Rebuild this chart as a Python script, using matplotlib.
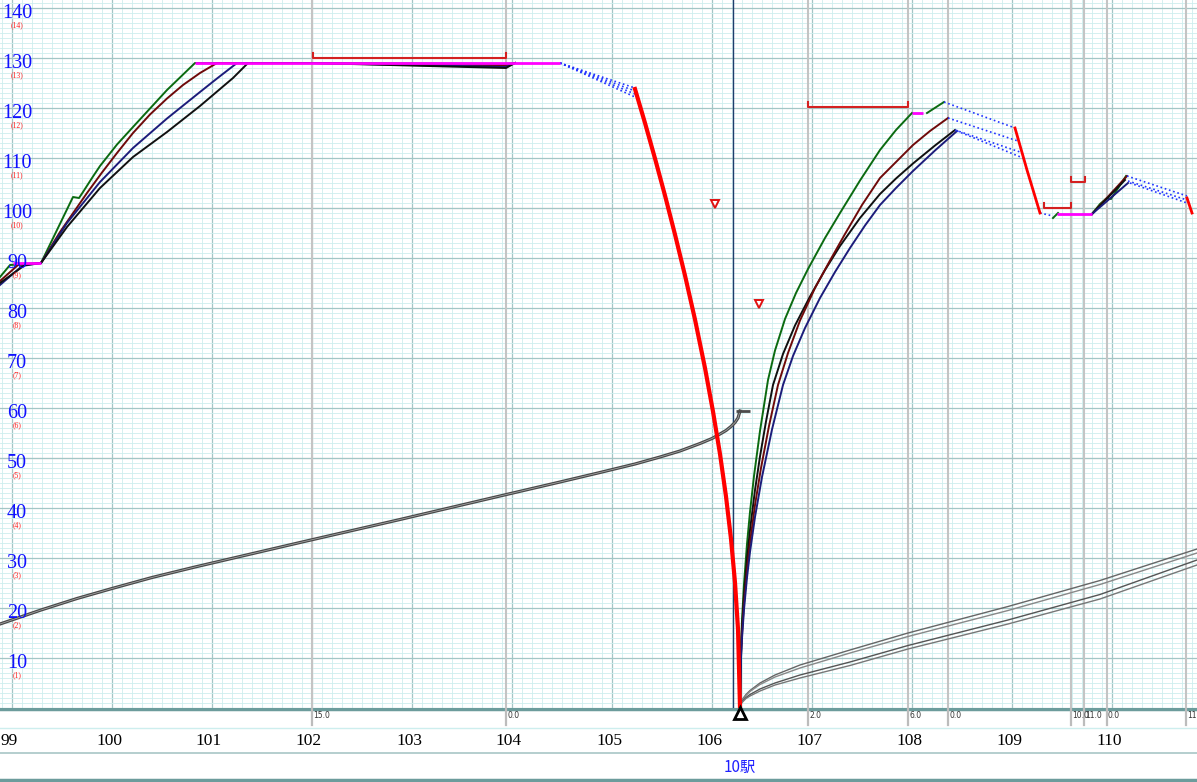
"""
Run curve chart: speed profiles of four trains around 10駅, with time curves.
"""
import matplotlib
matplotlib.use("Agg")
import matplotlib.pyplot as plt
from matplotlib.ticker import MultipleLocator

plt.rcParams["font.family"] = ["Liberation Serif", "DejaVu Serif"]

# ---- data (km, km/h) ---------------------------------------------------------
KM_LABELS = list(range(99, 111))
Y_LABELS = list(range(10, 150, 10))

# approach + first acceleration, cruise at 129
green_a_km = [98.88, 98.98, 99.29, 99.45, 99.61, 99.67, 99.71, 99.80, 99.88, 100.05, 100.21, 100.38, 100.55,
              100.69, 100.83, 102.0, 103.94, 104.03]
green_a_v = [86.2, 88.6, 89.0, 95.6, 102.2, 102.0, 103.2, 106.0, 108.4, 112.7, 116.2, 119.9, 123.6,
             126.3, 129.0, 129.0, 128.8, 129.0]
maroon_a_km = [98.88, 99.06, 99.29, 99.48, 99.75, 99.90, 100.05, 100.21, 100.38, 100.55, 100.71, 100.88,
               101.05, 102.0, 103.94, 104.03]
maroon_a_v = [85.4, 88.6, 89.0, 95.2, 103.0, 107.1, 111.0, 115.0, 118.7, 121.9, 124.6, 127.0,
              129.0, 129.0, 128.5, 129.0]
navy_a_km = [98.88, 99.10, 99.29, 99.55, 99.88, 100.21, 100.55, 100.88, 101.05, 101.25, 102.0, 103.94, 104.03]
navy_a_v = [84.6, 88.4, 89.0, 97.0, 105.2, 112.0, 117.9, 123.2, 125.9, 129.0, 129.0, 128.2, 129.0]
black_a_km = [98.88, 99.13, 99.29, 99.55, 99.88, 100.21, 100.55, 100.88, 101.21, 101.36, 102.0, 103.94, 104.03]
black_a_v = [85.0, 88.6, 89.0, 96.2, 104.0, 110.2, 115.2, 120.4, 126.0, 129.0, 129.0, 128.0, 129.0]

const1_km, const1_v = [99.01, 99.29], [89.0, 89.0]
const2_km, const2_v = [100.83, 104.48], [129.0, 129.0]

coast1_start = (104.48, 129.0)
coast1_end_km = 105.23
coast1_end_v = [124.0, 123.4, 122.8, 122.2]

brake1_km = [105.23, 105.33, 105.43, 105.53, 105.63, 105.73, 105.83, 105.93, 106.01, 106.08, 106.14,
             106.19, 106.23, 106.26, 106.28]
brake1_v = [123.8, 117.0, 109.9, 102.5, 94.7, 86.5, 77.7, 68.0, 59.3, 50.8, 42.3, 33.8, 25.1, 15.8, 0.0]

# departure from 10駅
green_b_km = [106.28, 106.29, 106.30, 106.32, 106.35, 106.38, 106.42, 106.48, 106.56, 106.63, 106.73, 106.84,
              106.96, 107.13, 107.28, 107.48, 107.68, 107.84, 108.00]
green_b_v = [0, 12.4, 17.5, 24.8, 32.8, 39.2, 46.4, 55.4, 65.6, 71.5, 77.8, 83.0,
             87.8, 94.0, 99.0, 105.5, 111.6, 115.6, 119.0]
green_c_km, green_c_v = [108.15, 108.32], [119.0, 121.2]
maroon_b_km = [106.28, 106.29, 106.30, 106.32, 106.35, 106.38, 106.43, 106.49, 106.57, 106.66, 106.76, 106.88,
               107.03, 107.18, 107.33, 107.50, 107.68, 107.84, 108.01, 108.18, 108.36]
maroon_b_v = [0, 10.5, 14.8, 21.0, 27.7, 33.1, 40.6, 48.0, 56.4, 64.6, 71.0, 77.5,
              84.0, 89.5, 94.8, 100.6, 106.0, 109.2, 112.6, 115.4, 118.0]
black_b_km = [106.28, 106.29, 106.30, 106.32, 106.35, 106.38, 106.43, 106.48, 106.54, 106.61, 106.71, 106.83,
              106.98, 107.13, 107.28, 107.48, 107.68, 107.84, 108.01, 108.23, 108.43]
black_b_v = [0, 11.2, 15.9, 22.5, 29.8, 35.6, 43.6, 50.3, 57.3, 64.6, 70.8, 76.5,
             82.3, 87.6, 92.4, 98.0, 102.8, 105.9, 108.9, 112.5, 115.6]
navy_b_km = [106.28, 106.29, 106.30, 106.32, 106.35, 106.38, 106.43, 106.50, 106.60, 106.71, 106.81, 106.93,
             107.08, 107.23, 107.38, 107.53, 107.68, 107.84, 108.01, 108.23, 108.45]
navy_b_v = [0, 9.9, 13.9, 19.7, 26.1, 31.2, 38.2, 46.2, 55.7, 64.6, 70.4, 76.0,
            82.0, 87.2, 92.0, 96.5, 100.6, 104.0, 107.4, 111.5, 115.4]
const3_km, const3_v = [108.00, 108.11], [119.0, 119.0]

coast2 = [  # (km0, v0, km1, v1)
    (108.32, 121.2, 109.03, 116.0),
    (108.36, 118.0, 109.06, 113.4),
    (108.43, 115.6, 109.08, 111.2),
    (108.45, 115.4, 109.11, 110.0),
]
brake2_km, brake2_v = [109.03, 109.15, 109.28], [116.0, 107.6, 99.0]
coast3_km, coast3_v = [109.28, 109.41], [99.0, 98.4]
wiggle_km, wiggle_v = [109.41, 109.46], [98.0, 99.0]
const4_km, const4_v = [109.45, 109.80], [98.8, 98.8]

green_d_km = [109.80, 109.88, 109.95, 109.99, 110.14]
green_d_v = [98.8, 100.8, 102.0, 101.8, 106.4]
maroon_d_km, maroon_d_v = [109.80, 110.15], [98.8, 106.4]
black_d_km, black_d_v = [109.80, 110.13], [98.8, 105.6]
navy_d_km, navy_d_v = [109.80, 110.16], [98.8, 105.0]
coast4 = [
    (110.15, 106.4, 110.75, 102.4),
    (110.16, 105.4, 110.75, 101.6),
    (110.18, 105.0, 110.75, 101.0),
]
brake3_km, brake3_v = [110.75, 110.80], [102.0, 99.0]

# speed limit brackets (start km, end km, km/h)
limits = [(102.01, 103.94, 130), (106.96, 107.96, 120.2), (109.32, 109.59, 100), (109.59, 109.73, 105.2)]
marks_km, marks_v = [106.03, 106.47], [100.8, 80.8]

# time curves (same scale, (n) = minutes)
time1_km = [98.88, 99.29, 99.65, 100.0, 100.4, 100.83, 101.88, 102.88, 103.88, 104.48, 104.88, 105.23, 105.48,
            105.68, 105.88, 106.0, 106.08, 106.14, 106.19, 106.23, 106.26, 106.28]
time1_v = [16.8, 19.6, 21.9, 23.9, 26.1, 28.2, 33.1, 37.7, 42.4, 45.2, 47.1, 48.8, 50.2,
           51.4, 52.9, 53.9, 54.8, 55.5, 56.3, 57.1, 58.0, 59.4]
time2_km = [106.28, 106.29, 106.31, 106.34, 106.38, 106.48, 106.63, 106.88, 107.38, 107.96, 108.96, 109.88, 110.85]
time2_a = [0, 1.1, 1.9, 2.7, 3.5, 5.0, 6.6, 8.6, 11.6, 15.0, 20.3, 25.5, 31.8]
time2_b = [0, 1.0, 1.8, 2.5, 3.3, 4.7, 6.2, 8.0, 11.0, 14.3, 19.5, 24.7, 31.0]
time2_c = [0, 0.9, 1.5, 2.1, 2.7, 3.8, 5.0, 6.6, 9.2, 12.5, 17.6, 22.7, 29.6]
time2_d = [0, 0.8, 1.3, 1.9, 2.4, 3.4, 4.6, 6.0, 8.5, 11.8, 16.8, 21.8, 28.6]

grade_km = [102.0, 103.94, 106.96, 107.96, 108.36, 109.59, 109.72, 109.95, 110.74]
grade_txt = ["15.0", "0.0", "2.0", "6.0", "0.0", "10.0", "11.0", "0.0", "11.0"]
station_km, station_name = 106.28, "10駅"
station_line_km = 106.21

GREEN, MAROON, NAVY, BLACK = "#0b6a10", "#6e0a0a", "#1c1c7a", "#101010"
MAGENTA, RED, DOT = "#ff00ff", "#ff0000", "#2233ff"


def main():
    W, H = 1197, 782
    fig = plt.figure(figsize=(W / 100, H / 100), dpi=100)
    ax = fig.add_axes([0, 74 / H, 1, 708 / H])
    ax.set_xlim(98.88, 110.85)
    ax.set_ylim(0, 141.6)

    # ---- grid ----
    ax.xaxis.set_major_locator(MultipleLocator(1))
    ax.xaxis.set_minor_locator(MultipleLocator(0.1))
    ax.yaxis.set_major_locator(MultipleLocator(10))
    ax.yaxis.set_minor_locator(MultipleLocator(1))
    ax.grid(which="minor", color="#cdeeee", lw=0.6, zorder=0)
    ax.grid(which="major", color="#a3c6c6", lw=0.9, zorder=0)
    ax.set_axisbelow(True)
    ax.tick_params(which="both", length=0, labelbottom=False, labelleft=False)
    for s in ax.spines.values():
        s.set_visible(False)
    for yv in (50, 100):
        ax.axhline(yv, color="#e2aaaa", lw=0.8, zorder=0.5)
    for k in grade_km:
        ax.axvline(k, color="#c4c4c4", lw=1.5, zorder=0.6)
    ax.axvline(station_line_km, color="#1f3c6c", lw=1.0, zorder=1)

    # ---- time curves ----
    ax.plot(time1_km, time1_v, color="#4a4a4a", lw=2.3, zorder=2)
    ax.plot(time1_km, time1_v, color="#b0b0b0", lw=0.5, zorder=2)
    ax.plot(time1_km[-1] + 0.03, time1_v[-1], marker="_", ms=10, mew=2, color="#4a4a4a", zorder=2)
    for vv, c in ((time2_a, "#666"), (time2_b, "#888"), (time2_c, "#555"), (time2_d, "#777")):
        ax.plot(time2_km, vv, color=c, lw=1.0, zorder=2)

    # ---- speed curves ----
    for km, v, c in ((green_a_km, green_a_v, GREEN), (maroon_a_km, maroon_a_v, MAROON),
                     (navy_a_km, navy_a_v, NAVY), (black_a_km, black_a_v, BLACK),
                     (green_b_km, green_b_v, GREEN), (green_c_km, green_c_v, GREEN),
                     (black_b_km, black_b_v, BLACK), (maroon_b_km, maroon_b_v, MAROON),
                     (navy_b_km, navy_b_v, NAVY), (wiggle_km, wiggle_v, GREEN),
                     (green_d_km, green_d_v, GREEN), (maroon_d_km, maroon_d_v, MAROON),
                     (black_d_km, black_d_v, BLACK), (navy_d_km, navy_d_v, NAVY)):
        ax.plot(km, v, color=c, lw=1.4, zorder=3)

    for km, v in ((const1_km, const1_v), (const2_km, const2_v), (const3_km, const3_v), (const4_km, const4_v)):
        ax.plot(km, v, color=MAGENTA, lw=2.0, zorder=4, solid_capstyle="butt")

    for ve in coast1_end_v:
        ax.plot([coast1_start[0], coast1_end_km], [coast1_start[1], ve], color=DOT, lw=1.2, ls=":", zorder=3)
    for k0, v0, k1, v1 in coast2 + coast4:
        ax.plot([k0, k1], [v0, v1], color=DOT, lw=1.2, ls=":", zorder=3)
    ax.plot(coast3_km, coast3_v, color=DOT, lw=1.2, ls=":", zorder=3)

    ax.plot(brake1_km, brake1_v, color=RED, lw=3.0, zorder=5)
    ax.plot(brake2_km, brake2_v, color=RED, lw=2.0, zorder=5)
    ax.plot(brake3_km, brake3_v, color=RED, lw=2.0, zorder=5)

    # speed limit brackets
    for k0, k1, lim in limits:
        ax.plot([k0, k0, k1, k1], [lim + 1, lim, lim, lim + 1], color="#d42020", lw=1.5, zorder=4)
    ax.plot(marks_km, marks_v, ls="none", marker="v", ms=6, mfc="white", mec="#e01010", mew=1.4, zorder=5)

    # ---- y labels ----
    for yv in Y_LABELS:
        ax.text(0.0142, yv - 1.0, str(yv), transform=ax.get_yaxis_transform(), ha="center", va="center",
                fontsize=14.5, color="#1010ff", zorder=6)
        ax.text(0.0142, yv - 3.5, f"({yv // 10})", transform=ax.get_yaxis_transform(), ha="center",
                va="center", fontsize=5.5, color="#ff2020", zorder=6)

    # ---- bottom strip ----
    sx = fig.add_axes([0, 0, 1, 74 / H])
    sx.set_xlim(98.88, 110.85)
    sx.set_ylim(0, 74)
    sx.axis("off")
    sx.axhline(73.5, color="#6c9c9c", lw=2.5)
    sx.axhline(54, color="#cdeeee", lw=1.0)
    sx.axhline(29, color="#a8c6c6", lw=1.2)
    sx.axhline(2.5, color="#6c9c9c", lw=2.5)
    for k, t in zip(grade_km, grade_txt):
        sx.plot([k, k], [57, 73], color="#bcbcbc", lw=1.6)
        sx.text(k + 0.01, 66, t, fontsize=5.5, color="#333", ha="left", va="center",
                family=["DejaVu Sans"])
    for k in KM_LABELS:
        sx.text(k - 0.03, 41, str(k), ha="center", va="center", fontsize=12.5, color="black")
    sx.text(station_km, 15, station_name, ha="center", va="center", fontsize=11, color="#2020ff",
            family=["Noto Sans CJK JP", "DejaVu Sans"])
    sx.plot(station_km, 69, marker="^", ms=8, mfc="white", mec="black", mew=2, clip_on=False, zorder=6)

    fig.savefig("out.png", dpi=100)
    plt.close(fig)


if __name__ == "__main__":
    main()
